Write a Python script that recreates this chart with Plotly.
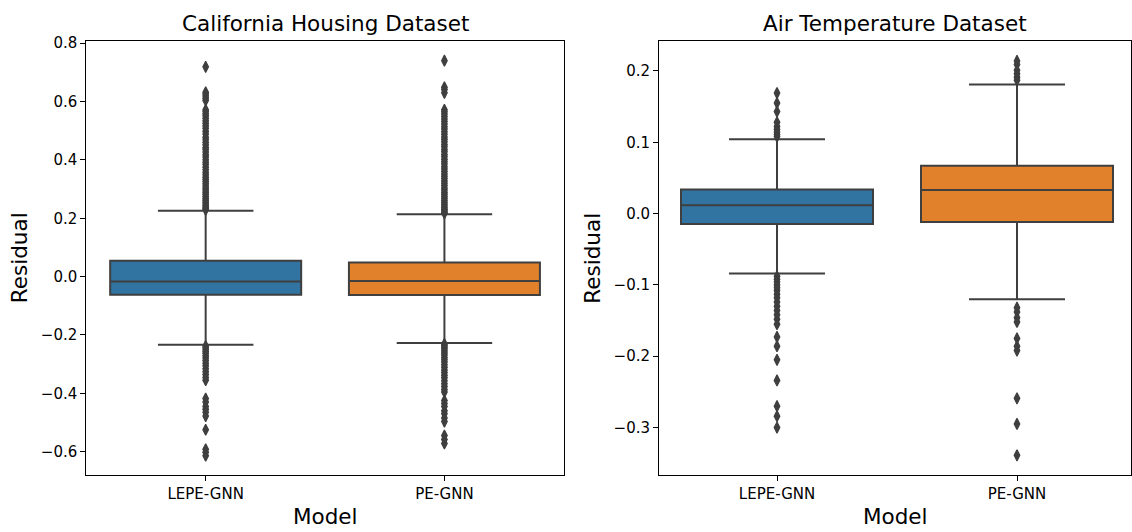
import plotly.graph_objects as go

# ---------------- data ----------------
models = ["LEPE-GNN", "PE-GNN"]

# California Housing: box statistics per model
cal_q1 = [-0.0626, -0.0630]
cal_median = [-0.0170, -0.0147]
cal_q3 = [0.0540, 0.0480]
cal_lower = [-0.2335, -0.2280]
cal_upper = [0.2256, 0.2140]

cal_out_lepe = [0.719, 0.632, 0.626, 0.619, 0.611, 0.604,
                0.572, 0.566, 0.558, 0.551, 0.543, 0.534, 0.526, 0.517, 0.509, 0.498,
                0.489, 0.478, 0.470, 0.461, 0.452, 0.443, 0.436, 0.427, 0.418, 0.410,
                0.401, 0.392, 0.384, 0.375, 0.366, 0.357, 0.349, 0.341, 0.333, 0.326,
                0.318, 0.311, 0.303, 0.296, 0.289, 0.282, 0.275, 0.268, 0.262, 0.255,
                0.249, 0.243, 0.238, 0.233, 0.229,
                -0.238, -0.243, -0.249, -0.256, -0.263, -0.271, -0.279, -0.288, -0.297,
                -0.306, -0.316, -0.326, -0.336, -0.346, -0.355,
                -0.418, -0.430, -0.445, -0.455, -0.465, -0.478, -0.525,
                -0.592, -0.602, -0.614]

cal_out_pe = [0.740, 0.649, 0.641, 0.630,
              0.572, 0.565, 0.557, 0.549, 0.540, 0.532, 0.523, 0.514, 0.506, 0.497,
              0.488, 0.479, 0.471, 0.462, 0.453, 0.445, 0.436, 0.428, 0.419, 0.411,
              0.402, 0.394, 0.386, 0.377, 0.369, 0.360, 0.352, 0.344, 0.336, 0.328,
              0.320, 0.312, 0.304, 0.297, 0.289, 0.282, 0.275, 0.268, 0.261, 0.254,
              0.248, 0.242, 0.236, 0.231, 0.226, 0.221, 0.217,
              -0.231, -0.236, -0.242, -0.248, -0.255, -0.262, -0.269, -0.277, -0.285,
              -0.293, -0.302, -0.311, -0.320, -0.329, -0.338, -0.347, -0.357, -0.367,
              -0.377, -0.387, -0.396,
              -0.425, -0.435, -0.445, -0.460, -0.470, -0.485, -0.497,
              -0.545, -0.558, -0.572]

# Air Temperature: box statistics per model
air_q1 = [-0.0145, -0.0117]
air_median = [0.0116, 0.0330]
air_q3 = [0.0337, 0.0670]
air_lower = [-0.0840, -0.1200]
air_upper = [0.1042, 0.1810]

air_out_lepe = [0.169, 0.155, 0.143, 0.128, 0.122, 0.118, 0.114, 0.111, 0.108,
                -0.088, -0.092, -0.096, -0.100, -0.104, -0.108, -0.113, -0.118,
                -0.124, -0.130, -0.136, -0.142, -0.148, -0.155, -0.173, -0.186,
                -0.205, -0.234, -0.270, -0.284, -0.300]

air_out_pe = [0.214, 0.209, 0.201, 0.196, 0.191, 0.187,
              -0.132, -0.138, -0.146, -0.152, -0.175, -0.186, -0.192,
              -0.259, -0.295, -0.339]

cal_ticks = [-0.6, -0.4, -0.2, 0.0, 0.2, 0.4, 0.6, 0.8]
air_ticks = [-0.3, -0.2, -0.1, 0.0, 0.1, 0.2]

# ---------------- style ----------------
W, H = 1132, 532
FONT = "DejaVu Sans"
box_colors = ["#3274a1", "#e1812c"]
gray = "#3f3f3f"

fig = go.Figure()


def add_panel(q1, med, q3, lo, hi, outs, xa, ya):
    for i, m in enumerate(models):
        fig.add_trace(go.Box(
            x=[m], q1=[q1[i]], median=[med[i]], q3=[q3[i]],
            lowerfence=[lo[i]], upperfence=[hi[i]],
            fillcolor=box_colors[i], line=dict(color=gray, width=2),
            whiskerwidth=0.5, width=0.8, boxpoints=False,
            xaxis=xa, yaxis=ya, showlegend=False, hoverinfo="skip"))
        fig.add_trace(go.Scatter(
            x=[m] * len(outs[i]), y=outs[i], mode="markers",
            marker=dict(symbol="diamond-tall", size=8, color=gray,
                        line=dict(color=gray, width=1.2)),
            xaxis=xa, yaxis=ya, showlegend=False, hoverinfo="skip"))


add_panel(cal_q1, cal_median, cal_q3, cal_lower, cal_upper,
          [cal_out_lepe, cal_out_pe], "x", "y")
add_panel(air_q1, air_median, air_q3, air_lower, air_upper,
          [air_out_lepe, air_out_pe], "x2", "y2")


def fmt(v):
    s = f"{abs(v):.1f}"
    return ("\u2212" + s) if v < 0 else s


axis_common = dict(showline=True, mirror=True, linecolor="black", linewidth=1,
                   ticks="outside", ticklen=5, tickwidth=1, tickcolor="black",
                   showgrid=False, zeroline=False,
                   tickfont=dict(family=FONT, size=15, color="black"))

TOP_PX = 34.5
BOT_PX = 474.5
ydom = [(H - BOT_PX) / H, (H - TOP_PX) / H]
xdom1 = [86.3 / W, 563.8 / W]
xdom2 = [659.0 / W, 1131.0 / W]

fig.update_layout(
    width=W, height=H, margin=dict(l=0, r=0, t=0, b=0),
    paper_bgcolor="white", plot_bgcolor="white", showlegend=False,
    xaxis=dict(domain=xdom1, anchor="y", type="category",
               categoryorder="array", categoryarray=models,
               range=[-0.5, 1.5], **axis_common),
    yaxis=dict(domain=ydom, anchor="x", range=[-0.681, 0.8075],
               tickvals=cal_ticks, ticktext=[fmt(v) for v in cal_ticks],
               **axis_common),
    xaxis2=dict(domain=xdom2, anchor="y2", type="category",
                categoryorder="array", categoryarray=models,
                range=[-0.4917, 1.475], **axis_common),
    yaxis2=dict(domain=ydom, anchor="x2", range=[-0.3669, 0.2419],
                tickvals=air_ticks, ticktext=[fmt(v) for v in air_ticks],
                **axis_common),
)

ann = []
title_font = dict(family=FONT, size=21.5, color="black")
label_font = dict(family=FONT, size=21.5, color="black")
ann.append(dict(text="California Housing Dataset", x=sum(xdom1) / 2, y=(H - 17) / H,
                xref="paper", yref="paper", showarrow=False, font=title_font,
                xanchor="center", yanchor="middle"))
ann.append(dict(text="Air Temperature Dataset", x=sum(xdom2) / 2, y=(H - 17) / H,
                xref="paper", yref="paper", showarrow=False, font=title_font,
                xanchor="center", yanchor="middle"))
for xd in (xdom1, xdom2):
    ann.append(dict(text="Model", x=sum(xd) / 2, y=(H - 516) / H,
                    xref="paper", yref="paper", showarrow=False, font=label_font,
                    xanchor="center", yanchor="middle"))
for xpx in (19.5, 593.0):
    ann.append(dict(text="Residual", x=xpx / W, y=(H - 254) / H, textangle=-90,
                    xref="paper", yref="paper", showarrow=False, font=label_font,
                    xanchor="center", yanchor="middle"))
fig.update_layout(annotations=ann)

fig.write_html("out.html")
